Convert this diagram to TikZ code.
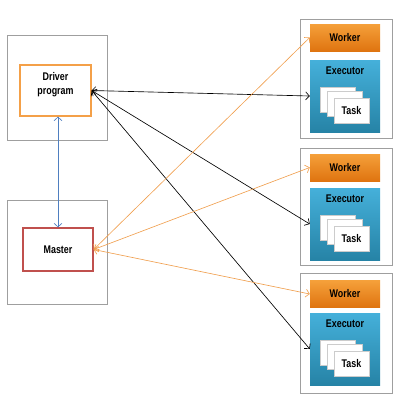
\documentclass[tikz,border=0pt]{standalone}
\usepackage{fontspec}
\setmainfont{Liberation Sans}[FakeStretch=0.8]
\usetikzlibrary{arrows.meta,shadows}

\definecolor{wkTop}{HTML}{F5A03A}
\definecolor{wkBot}{HTML}{DF7410}
\definecolor{exTop}{HTML}{45B0DA}
\definecolor{exBot}{HTML}{2683A6}
\definecolor{drvLine}{HTML}{F4A048}
\definecolor{mstLine}{HTML}{C0504D}
\definecolor{linkBlue}{HTML}{4F7FC0}
\definecolor{linkOrange}{HTML}{F0A050}

\begin{document}
\begin{tikzpicture}[
        x=0.03cm, y=-0.03cm,
        every node/.style={font=\fontsize{9.5}{11}\selectfont\bfseries},
        hostbox/.style={draw=gray!75, line width=0.5pt, minimum width=3cm},
        workerbox/.style={draw=gray!75, line width=0.5pt, minimum width=2.76cm},
        driverbox/.style={draw=drvLine, line width=1.1pt, minimum width=2.13cm, minimum height=1.53cm},
        masterbox/.style={draw=mstLine, line width=1.1pt, minimum width=2.1cm, minimum height=1.29cm},
        workerbar/.style={top color=wkTop, bottom color=wkBot, minimum width=2.1cm, minimum height=0.81cm,
            drop shadow={opacity=0.25, shadow xshift=0.4pt, shadow yshift=-0.8pt}},
        execbox/.style={top color=exTop, bottom color=exBot, minimum width=2.1cm, minimum height=2.16cm,
            drop shadow={opacity=0.25, shadow xshift=0.4pt, shadow yshift=-0.8pt}},
        taskpage/.style={draw=gray!40, line width=0.3pt, fill=white, minimum width=1.05cm, minimum height=0.75cm},
        link/.style={{Straight Barb[length=1.1mm,width=2.4mm]}-{Straight Barb[length=1.1mm,width=2.4mm]}, line width=0.55pt}
    ]
    \useasboundingbox (0,0) rectangle (418,406);

    % driver and master side
    \node[hostbox, minimum height=3.15cm] (drvhost) at (57,87.5) {};
    \node[driverbox, label={[name=drvtext, align=center, yshift=0.18cm]center:Driver\\[1pt]program}] (driver) at (55.5,90.5) {};
    \node[hostbox, minimum height=3.12cm] (msthost) at (57,252) {};
    \node[masterbox] (master) at (58,249.5) {Master};

    % worker column
    \foreach \i/\yh/\hh/\yw/\ye in {1/78.5/3.57/37.5/96, 2/206.5/3.51/167.5/224, 3/333/3.6/294/349} {
        \node[workerbox, minimum height=\hh cm] (host\i) at (346,\yh) {};
        \node[workerbar] (worker\i) at (345,\yw) {Worker};
        \node[execbox, label={[name=exectext\i, anchor=center, yshift=-0.33cm]north:Executor}] (exec\i) at (345,\ye) {};
        \node[taskpage] (taskA\i) at ([shift={(-7.5,3.5)}]exec\i.center) {};
        \node[taskpage] (taskB\i) at ([shift={(-0.5,8)}]exec\i.center) {};
        \node[taskpage] (taskC\i) at ([shift={(6.5,14.5)}]exec\i.center) {Task};
    }

    % connections
    \draw[link, linkBlue] (master.north) -- (master.north |- driver.south);
    \draw[link, black] (driver.east) -- (exec1.west);
    \draw[link, black] (driver.east) -- (exec2.west);
    \draw[link, black] (driver.east) -- (exec3.west);
    \draw[link, linkOrange] (master.east) -- (worker1.west);
    \draw[link, linkOrange] (master.east) -- (worker2.west);
    \draw[link, linkOrange] (master.east) -- (worker3.west);
\end{tikzpicture}
\end{document}
